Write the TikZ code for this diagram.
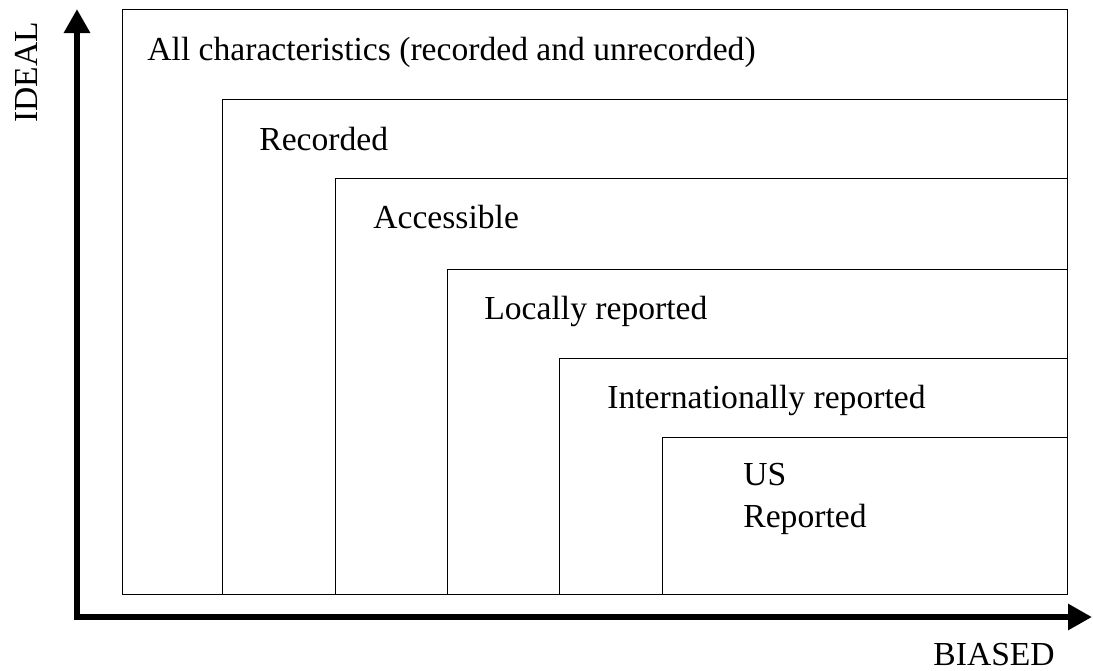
\documentclass[tikz,border=0pt]{standalone}
\usepackage{fontspec}
\setmainfont{Liberation Serif}
\usetikzlibrary{arrows.meta}

\begin{document}
\begin{tikzpicture}[x=0.5pt, y=-0.5pt,
    layer/.style={draw, line width=0.5pt},
    layerlabel/.style={anchor=base west, inner sep=0pt, align=left, font=\fontsize{16.8}{21}\selectfont},
    axis/.style={line width=3pt, line cap=rect, -{Triangle[length=12pt, width=12.5pt]}}]
    \useasboundingbox (0,0) rectangle (1093,670);
    % nested layers
    \draw[layer] (122,9) rectangle (1067,594);
    \draw[layer] (222,99) rectangle (1067,594);
    \draw[layer] (335,178) rectangle (1067,594);
    \draw[layer] (447,269) rectangle (1067,594);
    \draw[layer] (559,358) rectangle (1067,594);
    \draw[layer] (662,437) rectangle (1067,594);
    \node[layerlabel] (all) at (147,60) {All characteristics (recorded and unrecorded)};
    \node[layerlabel] (recorded) at (259,150) {Recorded};
    \node[layerlabel] (accessible) at (373,228) {Accessible};
    \node[layerlabel] (local) at (484,319) {Locally reported};
    \node[layerlabel] (intl) at (607,408) {Internationally reported};
    \node[layerlabel] (us) at (743,527) {US\\Reported};
    % axes
    \coordinate (origin) at (77,617);
    \coordinate (idealtip) at (77,9);
    \coordinate (biasedtip) at (1092,617);
    \draw[axis] (origin) -- (idealtip);
    \draw[axis] (origin) -- (biasedtip);
    \node[layerlabel, rotate=90] (ideal) at (38,123) {IDEAL};
    \node[layerlabel] (biased) at (933,665) {BIASED};
\end{tikzpicture}
\end{document}
